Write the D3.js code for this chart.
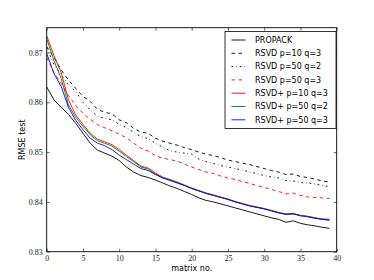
<!DOCTYPE html>
<html>
<head>
<meta charset="utf-8">
<script src="https://cdn.jsdelivr.net/npm/d3@7"></script>
<style>
  body { margin: 0; background: #fff; }
  svg { display: block; }
</style>
</head>
<body>
<svg width="374" height="280"></svg>
<script>
(function () {
    'use strict';

    const WIDTH = 374;
    const HEIGHT = 280;

    // matrix number 0..39
    const matrixNo = d3.range(0, 40);

    const propack = [0.8631, 0.8605, 0.8590, 0.8576, 0.8558, 0.8538, 0.8518, 0.8504, 0.8498, 0.8492,
        0.8483, 0.8470, 0.8460, 0.8453, 0.8449, 0.8444, 0.8438, 0.8432, 0.8427, 0.8421,
        0.8415, 0.8408, 0.8403, 0.8400, 0.8396, 0.8392, 0.8388, 0.8384, 0.8380, 0.8376,
        0.8372, 0.8368, 0.8365, 0.8359, 0.8362, 0.8357, 0.8354, 0.8352, 0.8349, 0.8347];
    const rsvdP10Q3 = [0.8712, 0.8690, 0.8665, 0.8645, 0.8628, 0.8612, 0.8602, 0.8586, 0.8580, 0.8577,
        0.8565, 0.8559, 0.8548, 0.8540, 0.8538, 0.8528, 0.8522, 0.8518, 0.8514, 0.8509,
        0.8505, 0.8500, 0.8496, 0.8493, 0.8489, 0.8484, 0.8481, 0.8478, 0.8475, 0.8471,
        0.8467, 0.8463, 0.8460, 0.8455, 0.8456, 0.8451, 0.8449, 0.8446, 0.8442, 0.8440];
    const rsvdP50Q2 = [0.8710, 0.8676, 0.8655, 0.8635, 0.8622, 0.8600, 0.8585, 0.8572, 0.8568, 0.8565,
        0.8556, 0.8549, 0.8540, 0.8531, 0.8527, 0.8518, 0.8510, 0.8503, 0.8500, 0.8498,
        0.8496, 0.8486, 0.8481, 0.8477, 0.8473, 0.8470, 0.8467, 0.8464, 0.8460, 0.8457,
        0.8453, 0.8450, 0.8448, 0.8443, 0.8442, 0.8439, 0.8438, 0.8436, 0.8433, 0.8431];
    const rsvdP50Q3 = [0.8690, 0.8660, 0.8638, 0.8614, 0.8594, 0.8578, 0.8566, 0.8555, 0.8549, 0.8543,
        0.8536, 0.8529, 0.8518, 0.8508, 0.8502, 0.8493, 0.8488, 0.8485, 0.8482, 0.8476,
        0.8470, 0.8465, 0.8460, 0.8457, 0.8452, 0.8448, 0.8445, 0.8441, 0.8437, 0.8433,
        0.8429, 0.8425, 0.8421, 0.8416, 0.8418, 0.8413, 0.8410, 0.8409, 0.8408, 0.8407];
    const rsvdPlusP10Q3 = [0.8734, 0.8694, 0.8660, 0.8605, 0.8575, 0.8556, 0.8538, 0.8526, 0.8521, 0.8515,
        0.8505, 0.8494, 0.8483, 0.8472, 0.8468, 0.8458, 0.8450, 0.8445, 0.8440, 0.8434,
        0.8428, 0.8423, 0.8418, 0.8414, 0.8410, 0.8406, 0.8401, 0.8397, 0.8393, 0.8390,
        0.8387, 0.8383, 0.8379, 0.8376, 0.8377, 0.8373, 0.8371, 0.8368, 0.8365, 0.8363];
    const rsvdPlusP50Q2 = [0.8728, 0.8684, 0.8648, 0.8595, 0.8570, 0.8552, 0.8535, 0.8523, 0.8518, 0.8512,
        0.8502, 0.8491, 0.8481, 0.8470, 0.8466, 0.8456, 0.8449, 0.8444, 0.8439, 0.8433,
        0.8427, 0.8422, 0.8417, 0.8413, 0.8409, 0.8405, 0.8400, 0.8396, 0.8392, 0.8389,
        0.8386, 0.8382, 0.8378, 0.8375, 0.8376, 0.8373, 0.8371, 0.8368, 0.8366, 0.8365];
    const rsvdPlusP50Q3 = [0.8698, 0.8658, 0.8632, 0.8590, 0.8564, 0.8545, 0.8528, 0.8518, 0.8513, 0.8505,
        0.8494, 0.8485, 0.8476, 0.8467, 0.8463, 0.8455, 0.8448, 0.8443, 0.8438, 0.8433,
        0.8427, 0.8422, 0.8417, 0.8413, 0.8409, 0.8405, 0.8400, 0.8396, 0.8392, 0.8389,
        0.8386, 0.8382, 0.8378, 0.8375, 0.8376, 0.8372, 0.8370, 0.8367, 0.8365, 0.8364];

    const seriesNames = ["PROPACK", "RSVD p=10 q=3", "RSVD p=50 q=2", "RSVD p=50 q=3",
        "RSVD+ p=10 q=3", "RSVD+ p=50 q=2", "RSVD+ p=50 q=3"];
    const seriesValues = [propack, rsvdP10Q3, rsvdP50Q2, rsvdP50Q3, rsvdPlusP10Q3, rsvdPlusP50Q2, rsvdPlusP50Q3];
    const seriesColors = ["#000000", "#000000", "#000000", "#ff0000", "#ff0000", "#008000", "#0000ff"];
    const seriesDash = [null, "3.5,3.5", "1.8,2.9,0.6,2.9", "3.5,3.5", null, null, null];

    const xTicks = [0, 5, 10, 15, 20, 25, 30, 35, 40];
    const yTicks = [0.83, 0.84, 0.85, 0.86, 0.87];

    const margin = { top: 27.7, right: 37.3, bottom: 28.3, left: 46.7 };
    const w = WIDTH - margin.left - margin.right;
    const h = HEIGHT - margin.top - margin.bottom;

    const svg = d3.select("svg");
    const g = svg.append("g").attr("transform", `translate(${margin.left},${margin.top})`);

    const x = d3.scaleLinear().domain([0, 40]).range([0, w]);
    const y = d3.scaleLinear().domain([0.83, 0.875]).range([h, 0]);

    const tickFont = "'Liberation Serif', 'DejaVu Serif', serif";
    const labelFont = "'DejaVu Sans', sans-serif";

    function styleAxis(sel, showLabels) {
        sel.select(".domain").remove();
        sel.selectAll(".tick line").attr("stroke", "#000").attr("stroke-width", 0.6);
        sel.selectAll(".tick text")
            .attr("fill", "#222")
            .style("font-family", tickFont)
            .style("font-size", "8px");
        if (!showLabels) sel.selectAll(".tick text").remove();
    }

    g.append("g")
        .attr("transform", `translate(0,${h})`)
        .call(d3.axisBottom(x).tickValues(xTicks).tickSizeInner(-3).tickSizeOuter(0).tickPadding(4).tickFormat(d3.format("d")))
        .call(s => styleAxis(s, true));
    g.append("g")
        .call(d3.axisTop(x).tickValues(xTicks).tickSizeInner(-3).tickSizeOuter(0))
        .call(s => styleAxis(s, false));
    g.append("g")
        .call(d3.axisLeft(y).tickValues(yTicks).tickSizeInner(-3).tickSizeOuter(0).tickPadding(4).tickFormat(d3.format(".2f")))
        .call(s => styleAxis(s, true));
    g.append("g")
        .attr("transform", `translate(${w},0)`)
        .call(d3.axisRight(y).tickValues(yTicks).tickSizeInner(-3).tickSizeOuter(0))
        .call(s => styleAxis(s, false));

    const line = d3.line()
        .x((d, i) => x(matrixNo[i]))
        .y(d => y(d));

    const clip = g.append("clipPath").attr("id", "plotclip")
        .append("rect").attr("width", w).attr("height", h);

    const lines = g.append("g").attr("clip-path", "url(#plotclip)");
    seriesValues.forEach(function (vals, k) {
        lines.append("path")
            .datum(vals)
            .attr("d", line)
            .attr("fill", "none")
            .attr("stroke", seriesColors[k])
            .attr("stroke-width", 0.9)
            .attr("stroke-dasharray", seriesDash[k]);
    });

    // frame
    g.append("rect")
        .attr("width", w).attr("height", h)
        .attr("fill", "none").attr("stroke", "#000").attr("stroke-width", 0.9);

    // axis labels
    svg.append("text")
        .attr("x", margin.left + w / 2).attr("y", 271)
        .attr("text-anchor", "middle")
        .style("font-family", labelFont).style("font-size", "8px")
        .text("matrix no.");
    svg.append("text")
        .attr("transform", `translate(25,${margin.top + h / 2}) rotate(-90)`)
        .attr("text-anchor", "middle")
        .style("font-family", labelFont).style("font-size", "8px")
        .text("RMSE test");

    // legend
    const lx = 225, ly = 31.5, lw = 111, lh = 97;
    const legend = svg.append("g");
    legend.append("rect")
        .attr("x", lx).attr("y", ly).attr("width", lw).attr("height", lh)
        .attr("fill", "#fff").attr("stroke", "#000").attr("stroke-width", 0.8);
    seriesNames.forEach(function (name, k) {
        const yy = 40 + k * 13.3;
        legend.append("line")
            .attr("x1", 231.5).attr("x2", 245.5).attr("y1", yy).attr("y2", yy)
            .attr("stroke", seriesColors[k]).attr("stroke-width", 0.9)
            .attr("stroke-dasharray", seriesDash[k]);
        legend.append("text")
            .attr("x", 255).attr("y", yy).attr("dy", "0.35em")
            .style("font-family", labelFont).style("font-size", "8px")
            .text(name);
    });
})();
</script>
</body>
</html>
